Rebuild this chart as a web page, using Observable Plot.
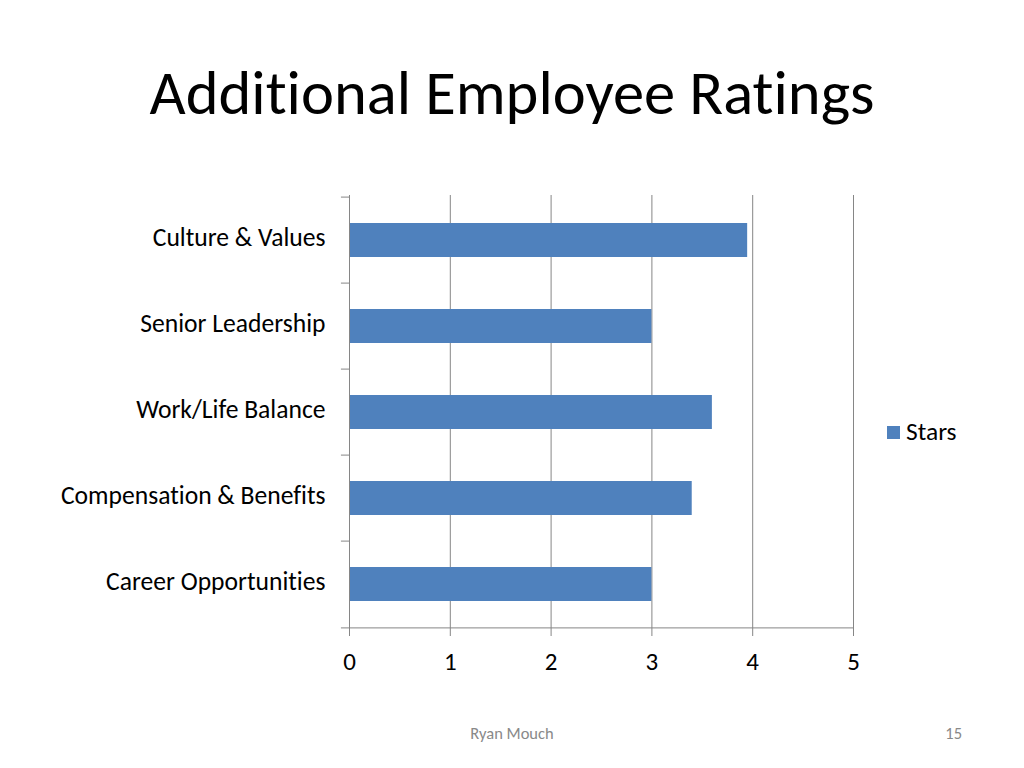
<!DOCTYPE html>
<html>
<head>
<meta charset="utf-8">
<script src="https://cdn.jsdelivr.net/npm/d3@7"></script>
<script src="https://cdn.jsdelivr.net/npm/@observablehq/plot@0.6"></script>
<style>
  html, body { margin:0; padding:0; background:#fff; width:1024px; height:768px; overflow:hidden; }
  body { position:relative; font-family: Carlito, Lato, "Open Sans", sans-serif; font-variant-ligatures: none; }
  svg text { font-variant-ligatures: none; }
  #title { position:absolute; left:0; width:1024px; top:56px; text-align:center; font-size:62.5px; line-height:74px; color:#000; white-space:nowrap; }
  #chart { position:absolute; left:0; top:180px; }
  #legend { position:absolute; left:887px; top:417px; font-size:25.5px; line-height:30px; color:#000; display:flex; align-items:center; }
  #legend .sw { width:13px; height:13px; background:#4f81bd; margin-right:6px; }
  #footer { position:absolute; left:0; width:1024px; top:723px; text-align:center; font-size:16.5px; color:#898989; }
  #page { position:absolute; right:62px; top:723px; font-size:16.5px; color:#898989; }
</style>
</head>
<body>
<div id="title">Additional Employee Ratings</div>
<div id="chart"></div>
<div id="legend"><div class="sw"></div><span>Stars</span></div>
<div id="footer">Ryan Mouch</div>
<div id="page">15</div>
<script>
const categories = ["Culture & Values", "Senior Leadership", "Work/Life Balance", "Compensation & Benefits", "Career Opportunities"];
const stars = [3.95, 3.0, 3.6, 3.4, 3.0];
const xTicks = [0, 1, 2, 3, 4, 5];

const data = categories.map((c, i) => ({category: c, value: stars[i]}));
const grey = "#868686";
const plotHeight = 434;
const step = plotHeight / categories.length;

const chart = Plot.plot({
  width: 1024,
  height: 509,
  marginLeft: 349,
  marginRight: 171,
  marginTop: 15,
  marginBottom: 60,
  style: {fontFamily: "Carlito, Lato, 'Open Sans', sans-serif", color: "#000", background: "#fff"},
  x: {domain: [0, 5]},
  y: {domain: categories, paddingInner: 0.6, paddingOuter: 0.3},
  marks: [
    Plot.gridX(xTicks.slice(1), {stroke: grey, strokeOpacity: 1}),
    Plot.barX(data, {x: "value", y: "category", fill: "#4f81bd"}),
    Plot.ruleX([0], {stroke: grey}),
    Plot.ruleY(categories, {y: d => d, dy: -step / 2, x1: -0.08, x2: 0, stroke: grey}),
    Plot.ruleY([categories[categories.length - 1]], {y: d => d, dy: step / 2, x1: -0.08, x2: 5, stroke: grey}),
    Plot.axisX({ticks: xTicks, tickFormat: d => String(d), tickSize: 7, tickPadding: 16, fontSize: 25, stroke: grey, fill: "#000", label: null}),
    Plot.axisY({tickSize: 0, tickPadding: 24, fontSize: 25.6, dy: -3, fill: "#000", label: null})
  ]
});
document.getElementById("chart").appendChild(chart);
</script>
</body>
</html>
